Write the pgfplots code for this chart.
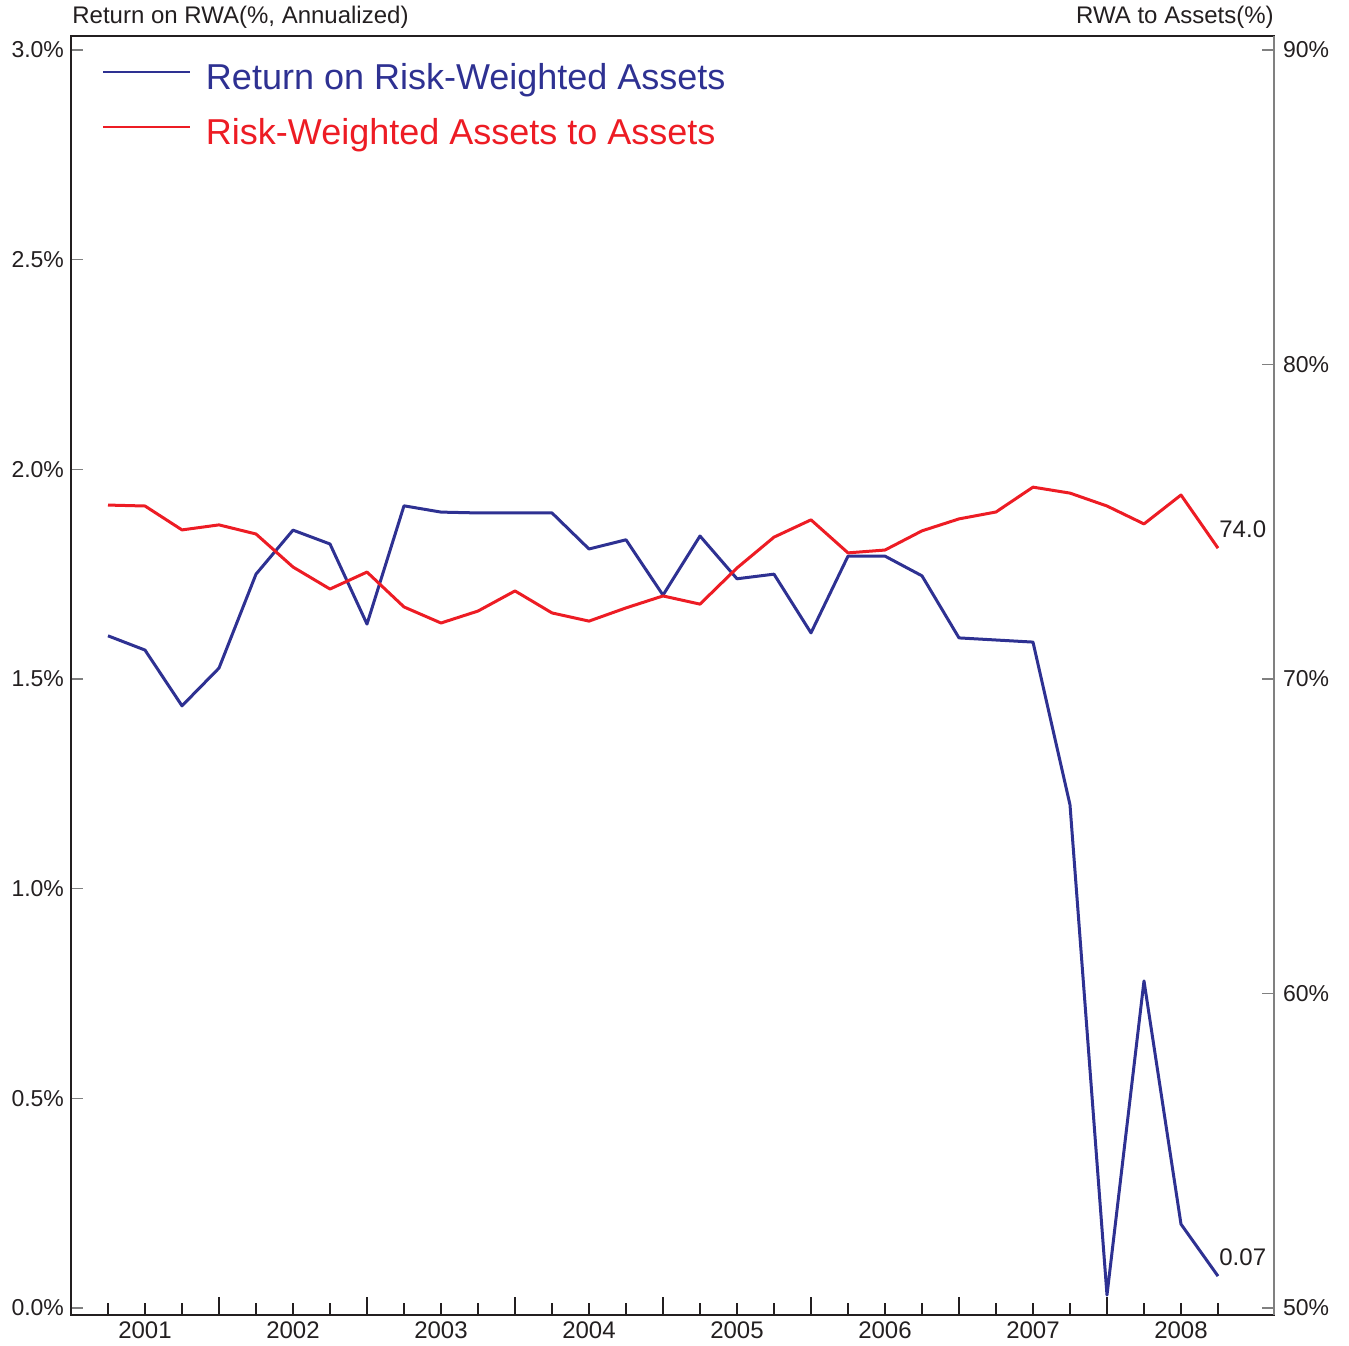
\documentclass[border=0pt]{standalone}
\usepackage{pgfplots}
\pgfplotsset{compat=1.18}
\usepackage{fontspec}
\setmainfont{Liberation Sans}
\definecolor{cblue}{HTML}{2E3192}
\definecolor{cred}{HTML}{ED1C24}
\definecolor{ctext}{HTML}{231F20}
\pgfplotstableread{
x roa rwa
0 1.603 75.53
1 1.569 75.50
2 1.436 74.74
3 1.526 74.90
4 1.750 74.61
5 1.855 73.56
6 1.822 72.86
7 1.631 73.40
8 1.913 72.29
9 1.898 71.78
10 1.896 72.16
11 1.896 72.80
12 1.896 72.10
13 1.810 71.84
14 1.832 72.26
15 1.700 72.64
16 1.841 72.38
17 1.739 73.53
18 1.750 74.51
19 1.610 75.06
20 1.793 74.01
21 1.793 74.10
22 1.746 74.71
23 1.598 75.09
24 1.593 75.31
25 1.588 76.10
26 1.200 75.91
27 0.031 75.50
28 0.780 74.93
29 0.200 75.85
30 0.076 74.16
}\datatable
\begin{document}
\begin{tikzpicture}
\path[use as bounding box] (-35.5pt,-15pt) rectangle (639pt,657.5pt);
\begin{axis}[
  scale only axis, width=601.5pt, height=639.5pt,
  xmin=-1, xmax=31.514, ymin=-0.0167, ymax=3.0334,
  axis line style={ctext, line width=0.6pt},
  major tick length=6pt,
  xtick={0,...,30},
  xticklabels={,2001,,,,2002,,,,2003,,,,2004,,,,2005,,,,2006,,,,2007,,,,2008,},
  xtick pos=bottom, ytick pos=left, tick align=inside,
  xtick style={ctext, line width=0.6pt},
  extra x ticks={3,7,11,15,19,23,27},
  extra x tick labels={},
  extra x tick style={major tick length=9pt, tick style={ctext, line width=0.6pt}},
  ytick={0,0.5,1,1.5,2,2.5,3},
  yticklabels={0.0\%,0.5\%,1.0\%,1.5\%,2.0\%,2.5\%,3.0\%},
  ytick style={gray, line width=0.6pt},
  ticklabel style={font=\fontsize{11.5}{13}\selectfont, text=ctext},
  xticklabel style={font=\fontsize{12}{14}\selectfont},
  legend style={at={(rel axis cs:0,1)}, anchor=north west, draw=none, fill=none,
    xshift=12.5pt, yshift=-9.5pt, font=\fontsize{18}{21}\selectfont, row sep=9pt},
  legend cell align=left,
  legend image code/.code={\draw[#1, line width=0.6pt] (0pt,3pt) -- (43.5pt,3pt); \path[draw=none, fill=none] (0pt,0pt) rectangle (49.5pt,3pt);},
  clip=false,
]
\addplot[cblue, line width=1.5pt, line join=round] table[x=x, y=roa] {\datatable};
\addlegendentry{\textcolor{cblue}{Return on Risk-Weighted Assets}}
\addlegendimage{cred, line width=1.5pt}
\addlegendentry{\textcolor{cred}{Risk-Weighted Assets to Assets}}
\node[anchor=base west, inner sep=0pt, font=\fontsize{12}{14}\selectfont, text=ctext, yshift=5.5pt, xshift=0.5pt] at (axis cs:30,0.076) {0.07};
\node[anchor=base west, inner sep=0pt, font=\fontsize{12}{14}\selectfont, text=ctext, yshift=6pt, xshift=0.5pt] at (rel axis cs:0,1) {Return on RWA(\%, Annualized)};
\node[anchor=base east, inner sep=0pt, font=\fontsize{12}{14}\selectfont, text=ctext, yshift=6pt] at (rel axis cs:1,1) {RWA to Assets(\%)};
\end{axis}
\begin{axis}[
  scale only axis, width=601.5pt, height=639.5pt,
  xmin=-1, xmax=31.514, ymin=49.777, ymax=90.445,
  axis x line=none, axis y line*=right,
  axis line style={gray, line width=0.6pt},
  tick align=inside, major tick length=6pt,
  ytick={50,60,70,80,90},
  yticklabels={50\%,60\%,70\%,80\%,90\%},
  ytick style={gray, line width=0.6pt},
  yticklabel style={font=\fontsize{11.5}{13}\selectfont, text=ctext, xshift=1pt},
  clip=false,
]
\addplot[cred, line width=1.5pt, line join=round] table[x=x, y=rwa] {\datatable};
\node[anchor=base west, inner sep=0pt, font=\fontsize{12}{14}\selectfont, text=ctext, yshift=5.5pt, xshift=0.5pt] at (axis cs:30,74.16) {74.0};
\end{axis}
\end{tikzpicture}
\end{document}
